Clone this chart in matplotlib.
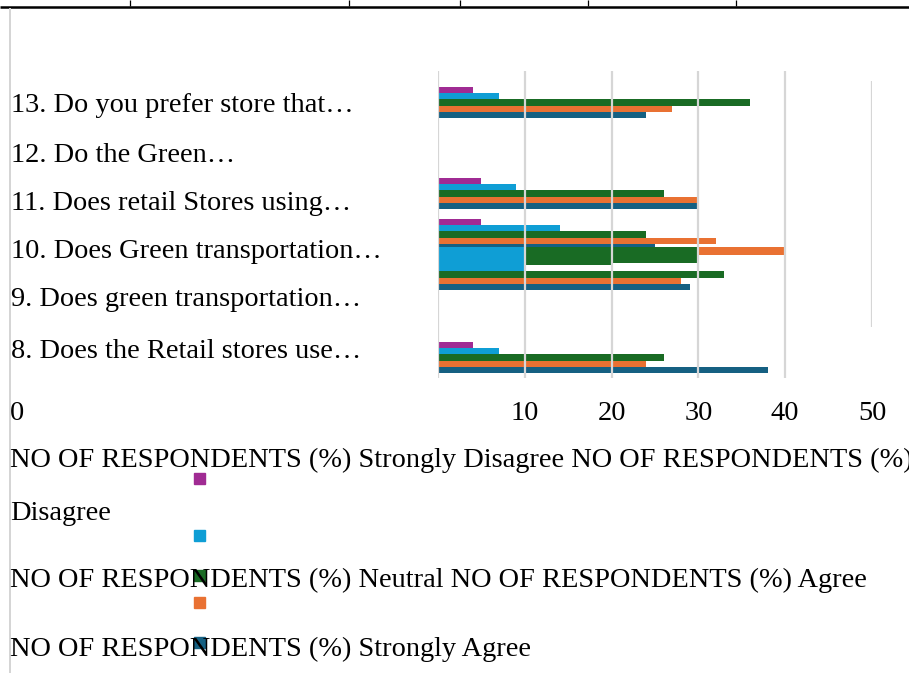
import numpy as np
import matplotlib
matplotlib.use("Agg")
import matplotlib.pyplot as plt
from matplotlib.patches import Rectangle

# survey questions, top to bottom
questions = [
    "13. Do you prefer store that…",
    "12. Do the Green…",
    "11. Does retail Stores using…",
    "10. Does Green transportation…",
    "9. Does green transportation…",
    "8. Does the Retail stores use…",
]

# NO OF RESPONDENTS (%) per answer
strongly_disagree = [4, 0, 5, 5, 5, 4]
disagree = [7, 0, 9, 14, 7, 7]
neutral = [36, 0, 26, 24, 33, 26]
agree = [27, 0, 30, 32, 28, 24]
strongly_agree = [24, 0, 30, 25, 29, 38]

series_names = [
    "NO OF RESPONDENTS (%) Strongly Disagree",
    "NO OF RESPONDENTS (%) Disagree",
    "NO OF RESPONDENTS (%) Neutral",
    "NO OF RESPONDENTS (%) Agree",
    "NO OF RESPONDENTS (%) Strongly Agree",
]
series = [strongly_disagree, disagree, neutral, agree, strongly_agree]
colors = ["#A02B93", "#0F9ED5", "#196B24", "#E97132", "#156082"]

# smeared block left over in the middle of the plot (start, width, series)
smear_left = [0, 10, 20, 30]
smear_width = [10, 10, 10, 10]
smear_series = [1, 2, 2, 3]

x_ticks = [10, 20, 30, 40, 50]

W, H = 909, 673
fig = plt.figure(figsize=(W / 100, H / 100), dpi=100)
fig.patch.set_facecolor("white")

# page layer in pixel units
deco = fig.add_axes([0, 0, 1, 1])
deco.set_xlim(0, W)
deco.set_ylim(H, 0)
deco.axis("off")

# plot layer: x in percent, y in pixel rows
px0, px1, py0, py1 = 438, 872, 71, 378
ax = fig.add_axes([px0 / W, 1 - py1 / H, (px1 - px0) / W, (py1 - py0) / H])
ax.set_xlim(0, 50)
ax.set_ylim(py1, py0)
ax.axis("off")

serif = ["Liberation Serif", "DejaVu Serif"]
fs = 20.4
dy = 2  # nudge text down onto its row

# table border at the top of the page
deco.plot([0, W], [6.5, 6.5], color="black", lw=1.8, solid_capstyle="butt")
deco.vlines([130, 349, 460, 588, 736], 0, 6, color="black", lw=0.9)
deco.vlines(10, 8, H, color="#d4d4d4", lw=1.4)

# bars
group_top = [87, None, 178, 219, 259, 342]
bar_h = 6.2
for i, top in enumerate(group_top):
    if top is None or i == 4:
        continue
    for s, vals in enumerate(series):
        ax.barh(top + bar_h * (s + 0.5), vals[i], height=bar_h,
                color=colors[s], left=0, zorder=2)

smear_top = 247
smear_bottom = [271, 265, 263, 255]
for left, width, s, bot in zip(smear_left, smear_width, smear_series, smear_bottom):
    ax.barh((smear_top + bot) / 2, width, left=left, height=bot - smear_top,
            color=colors[s], zorder=3)

# question 9 sits partly under the smear
top9 = group_top[4]
for s, vals in enumerate(series):
    z = 1 if s < 2 else 2
    ax.barh(top9 + bar_h * (s + 0.5), vals[4], height=bar_h,
            color=colors[s], zorder=z)

# gridlines over the bars
ax.vlines([0, 10, 20, 30, 40], py0, py1, color="#d6d6d6", lw=1.6, zorder=5)
ax.vlines(50, 81, 327, color="#d6d6d6", lw=1.6, zorder=5)

# value axis labels
for t in x_ticks:
    ax.text(t, 411 + dy, str(t), ha="center", va="center", fontsize=fs,
            family=serif, clip_on=False)
deco.text(10, 411 + dy, "0", ha="left", va="center", fontsize=fs, family=serif)

# category labels
label_y = [104, 153, 202, 250, 298, 349]
for q, y in zip(questions, label_y):
    deco.text(11, y + dy, q, ha="left", va="center", fontsize=fs, family=serif)

# legend text, wrapped across the page
legend_lines = [
    (458, series_names[0] + " " + series_names[1].replace(" Disagree", "")),
    (511, "Disagree"),
    (578, series_names[2] + " " + series_names[3]),
    (647, series_names[4]),
]
for y, txt in legend_lines:
    deco.text(10, y + dy, txt, ha="left", va="center", fontsize=fs,
              family=serif, zorder=4)

key_y = [478, 535, 575, 602, 642]
for c, y in zip(colors, key_y):
    deco.add_patch(Rectangle((194, y - 5.5), 11, 11, color=c, zorder=3))

fig.savefig("out.png", dpi=100, facecolor="white")
